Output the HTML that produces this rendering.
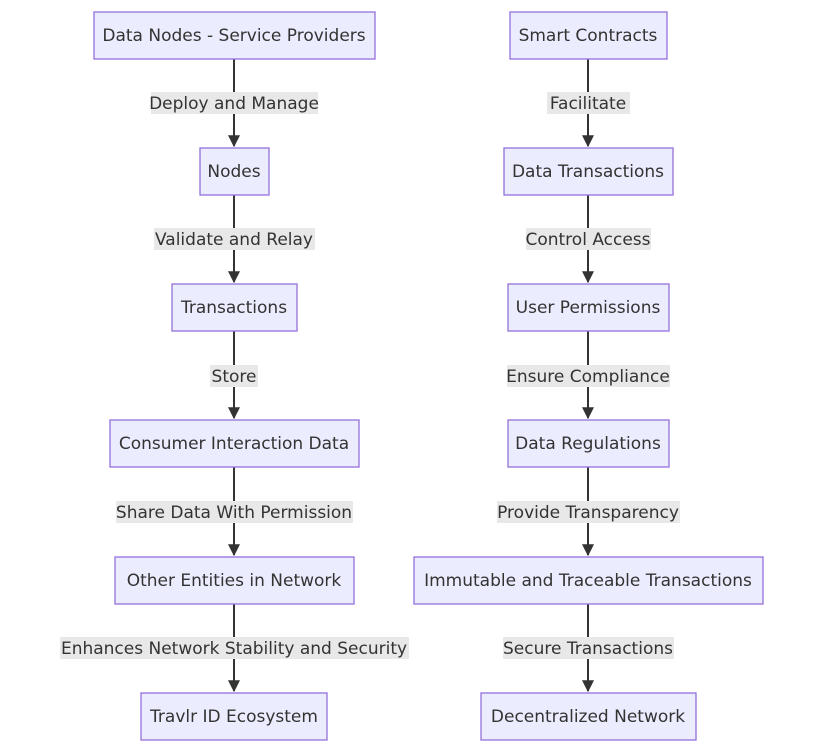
<!DOCTYPE html>
<html><head><meta charset="utf-8"><style>
html,body{margin:0;padding:0;background:#fff;}
svg{display:block}
text{font-family:"DejaVu Sans","Liberation Sans",sans-serif;font-size:17px;fill:#333;}
.n{fill:#ECECFF;stroke:#9370DB;stroke-width:1.3}
.e{stroke:#333;stroke-width:2;fill:none}
.lb{fill:#e8e8e8}
</style></head><body>
<svg width="827" height="755" viewBox="0 0 827 755">
<defs><marker id="a" viewBox="0 0 10 10" refX="9" refY="5" markerWidth="6" markerHeight="6" orient="auto"><path d="M0,0L10,5L0,10z" fill="#333"/></marker></defs>
<g>
<line class="e" x1="234" y1="59" x2="234" y2="146" marker-end="url(#a)"/>
<line class="e" x1="234" y1="195" x2="234" y2="282" marker-end="url(#a)"/>
<line class="e" x1="234" y1="331" x2="234" y2="418" marker-end="url(#a)"/>
<line class="e" x1="234" y1="467" x2="234" y2="555" marker-end="url(#a)"/>
<line class="e" x1="234" y1="604" x2="234" y2="691" marker-end="url(#a)"/>
<line class="e" x1="588" y1="59" x2="588" y2="146" marker-end="url(#a)"/>
<line class="e" x1="588" y1="195" x2="588" y2="282" marker-end="url(#a)"/>
<line class="e" x1="588" y1="331" x2="588" y2="418" marker-end="url(#a)"/>
<line class="e" x1="588" y1="467" x2="588" y2="555" marker-end="url(#a)"/>
<line class="e" x1="588" y1="604" x2="588" y2="691" marker-end="url(#a)"/>
</g>
<g>
<rect class="lb" x="151" y="92" width="167" height="22"/><text x="234" y="109" text-anchor="middle">Deploy and Manage</text>
<rect class="lb" x="154" y="228" width="161" height="22"/><text x="234" y="245" text-anchor="middle">Validate and Relay</text>
<rect class="lb" x="210" y="365" width="48" height="22"/><text x="234" y="382" text-anchor="middle">Store</text>
<rect class="lb" x="116" y="501" width="237" height="22"/><text x="234" y="518" text-anchor="middle">Share Data With Permission</text>
<rect class="lb" x="60" y="637" width="349" height="22"/><text x="234" y="654" text-anchor="middle">Enhances Network Stability and Security</text>
<rect class="lb" x="547" y="92" width="83" height="22"/><text x="588" y="109" text-anchor="middle">Facilitate</text>
<rect class="lb" x="526" y="228" width="125" height="22"/><text x="588" y="245" text-anchor="middle">Control Access</text>
<rect class="lb" x="507" y="365" width="163" height="22"/><text x="588" y="382" text-anchor="middle">Ensure Compliance</text>
<rect class="lb" x="497" y="501" width="183" height="22"/><text x="588" y="518" text-anchor="middle">Provide Transparency</text>
<rect class="lb" x="503" y="637" width="171" height="22"/><text x="588" y="654" text-anchor="middle">Secure Transactions</text>
</g>
<g>
<rect class="n" x="94" y="12" width="281" height="47"/><text x="234" y="41" text-anchor="middle">Data Nodes - Service Providers</text>
<rect class="n" x="200" y="148" width="69" height="47"/><text x="234" y="177" text-anchor="middle">Nodes</text>
<rect class="n" x="172" y="284" width="125" height="47"/><text x="234" y="313" text-anchor="middle">Transactions</text>
<rect class="n" x="110" y="420" width="249" height="47"/><text x="234" y="449" text-anchor="middle">Consumer Interaction Data</text>
<rect class="n" x="115" y="557" width="239" height="47"/><text x="234" y="586" text-anchor="middle">Other Entities in Network</text>
<rect class="n" x="141" y="693" width="186" height="47"/><text x="234" y="722" text-anchor="middle">Travlr ID Ecosystem</text>
<rect class="n" x="510" y="12" width="157" height="47"/><text x="588" y="41" text-anchor="middle">Smart Contracts</text>
<rect class="n" x="504" y="148" width="169" height="47"/><text x="588" y="177" text-anchor="middle">Data Transactions</text>
<rect class="n" x="508" y="284" width="161" height="47"/><text x="588" y="313" text-anchor="middle">User Permissions</text>
<rect class="n" x="508" y="420" width="161" height="47"/><text x="588" y="449" text-anchor="middle">Data Regulations</text>
<rect class="n" x="414" y="557" width="349" height="47"/><text x="588" y="586" text-anchor="middle">Immutable and Traceable Transactions</text>
<rect class="n" x="481" y="693" width="215" height="47"/><text x="588" y="722" text-anchor="middle">Decentralized Network</text>
</g>
</svg>
</body></html>
